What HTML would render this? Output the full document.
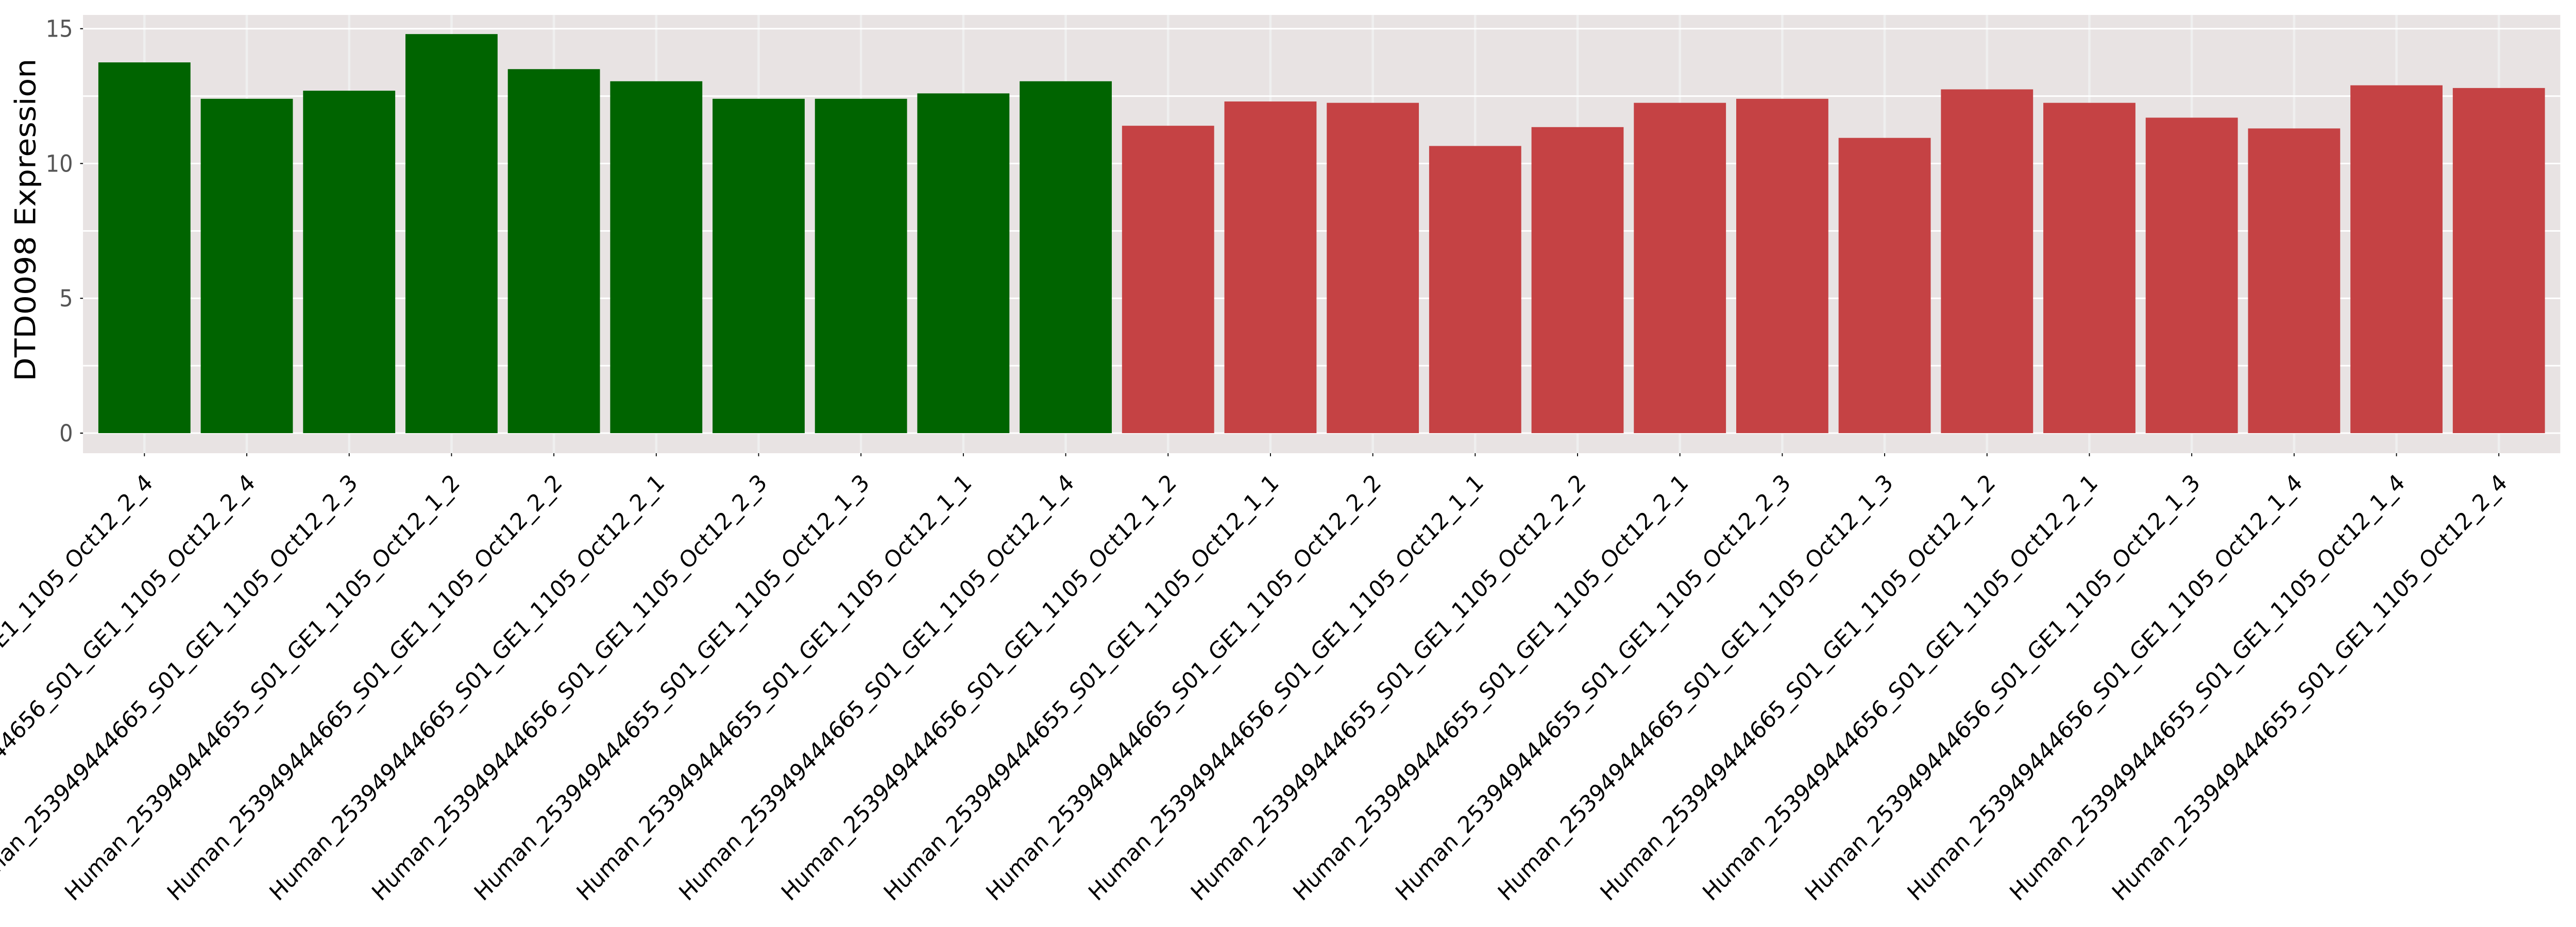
<!DOCTYPE html>
<html><head><meta charset="utf-8"><style>
html,body{margin:0;padding:0;background:#fff;overflow:hidden;width:100%;height:100%;}
svg{display:block;width:100vw;height:100vh;font-family:"DejaVu Sans","Liberation Sans",sans-serif;}
</style></head><body>
<svg id="chart" viewBox="0 0 5400 1800" preserveAspectRatio="none" xmlns="http://www.w3.org/2000/svg">
<rect x="174" y="29" width="5193" height="851" fill="#e8e3e3"/>
<g id="grid"></g>
<g id="bars"></g>
<g id="yaxis"></g>
<g id="xaxis"></g>
<text transform="translate(74,427) rotate(-90)" text-anchor="middle" font-size="60" fill="#000">DTD0098 Expression</text>
</svg>
<script>
const categories = [
"Human_253949444656_S01_GE1_1105_Oct12_2_4",
"Human_253949444656_S01_GE1_1105_Oct12_2_4",
"Human_253949444665_S01_GE1_1105_Oct12_2_3",
"Human_253949444655_S01_GE1_1105_Oct12_1_2",
"Human_253949444665_S01_GE1_1105_Oct12_2_2",
"Human_253949444665_S01_GE1_1105_Oct12_2_1",
"Human_253949444656_S01_GE1_1105_Oct12_2_3",
"Human_253949444655_S01_GE1_1105_Oct12_1_3",
"Human_253949444655_S01_GE1_1105_Oct12_1_1",
"Human_253949444665_S01_GE1_1105_Oct12_1_4",
"Human_253949444656_S01_GE1_1105_Oct12_1_2",
"Human_253949444655_S01_GE1_1105_Oct12_1_1",
"Human_253949444665_S01_GE1_1105_Oct12_2_2",
"Human_253949444656_S01_GE1_1105_Oct12_1_1",
"Human_253949444655_S01_GE1_1105_Oct12_2_2",
"Human_253949444655_S01_GE1_1105_Oct12_2_1",
"Human_253949444655_S01_GE1_1105_Oct12_2_3",
"Human_253949444665_S01_GE1_1105_Oct12_1_3",
"Human_253949444665_S01_GE1_1105_Oct12_1_2",
"Human_253949444656_S01_GE1_1105_Oct12_2_1",
"Human_253949444656_S01_GE1_1105_Oct12_1_3",
"Human_253949444656_S01_GE1_1105_Oct12_1_4",
"Human_253949444655_S01_GE1_1105_Oct12_1_4",
"Human_253949444655_S01_GE1_1105_Oct12_2_4"
];
const values = [13.75,12.4,12.7,14.8,13.5,13.05,12.4,12.4,12.6,13.05,
11.4,12.3,12.25,10.65,11.35,12.25,12.4,10.95,12.75,12.25,11.7,11.3,12.9,12.8];
const groups = ["a","a","a","a","a","a","a","a","a","a",
"b","b","b","b","b","b","b","b","b","b","b","b","b","b"];
const yTicks = [0,5,10,15];
const yMinor = [2.5,7.5,12.5];

const NS="http://www.w3.org/2000/svg";
const L=174,R=5367,T=29,B=880;
const yMin=-0.745,yMax=15.51;
const xMin=-0.6,xMax=categories.length-0.4;
function xs(i){return L+(i-xMin)/(xMax-xMin)*(R-L);}
function ys(v){return B-(v-yMin)/(yMax-yMin)*(B-T);}
const colors={a:"#006400",b:"#c54244"};
function mk(tag,attrs,parent){const e=document.createElementNS(NS,tag);for(const k in attrs)e.setAttribute(k,attrs[k]);parent.appendChild(e);return e;}
const grid=document.getElementById("grid"),bars=document.getElementById("bars"),ya=document.getElementById("yaxis"),xa=document.getElementById("xaxis");
const step=xs(1)-xs(0);
categories.forEach((c,i)=>{
  const g=mk("line",{x1:xs(i),x2:xs(i),y1:T,y2:B,stroke:"#efefef","stroke-width":5},grid);
  
  
});
yMinor.concat(yTicks).forEach(v=>{
  const g=mk("line",{x1:L,x2:R,y1:ys(v),y2:ys(v),stroke:"#ffffff","stroke-width":3},grid);
  
  
});
values.forEach((v,i)=>{
  const w=step*0.9;
  const r=mk("rect",{x:xs(i)-w/2,y:ys(v),width:w,height:ys(0)-ys(v),fill:colors[groups[i]]},bars);
  
  
});
yTicks.forEach(v=>{
  const t=mk("line",{x1:L-6,x2:L,y1:ys(v),y2:ys(v),stroke:"#000","stroke-width":2},ya);
  
  
  const lb=mk("text",{x:L-21,y:ys(v)+16,"text-anchor":"end","font-size":45,fill:"#555"},ya);
  lb.textContent=String(v);
  
  
});
categories.forEach((c,i)=>{
  const x=xs(i);
  const t=mk("line",{x1:x,x2:x,y1:B,y2:B+6,stroke:"#000","stroke-width":2},xa);
  
  
  const lb=mk("text",{transform:"translate("+(x+20)+",940) rotate(-45)","text-anchor":"end","font-size":45,fill:"#000"},xa);
  lb.textContent=c;
  
  
});
</script>
</body></html>
